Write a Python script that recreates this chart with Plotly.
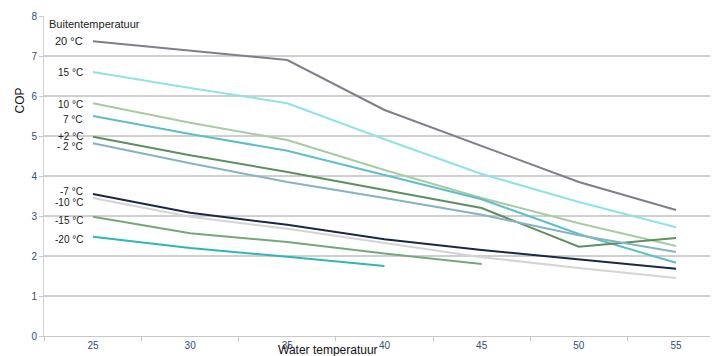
import plotly.graph_objects as go

water_temp = [25, 30, 35, 40, 45, 50, 55]

labels = ["20 °C", "15 °C", "10 °C", "7 °C", "+2 °C", "- 2 °C",
          "-7 °C", "-10 °C", "-15 °C", "-20 °C"]

cop_20 = [7.37, 7.13, 6.90, 5.65, 4.75, 3.85, 3.15]
cop_15 = [6.60, 6.20, 5.82, 4.92, 4.05, 3.35, 2.72]
cop_10 = [5.82, 5.33, 4.90, 4.15, 3.45, 2.82, 2.25]
cop_7 = [5.50, 5.05, 4.63, 4.02, 3.42, 2.55, 1.83]
cop_p2 = [4.98, 4.52, 4.10, 3.65, 3.20, 2.23, 2.45]
cop_m2 = [4.82, 4.32, 3.85, 3.45, 3.03, 2.52, 2.10]
cop_m7 = [3.55, 3.08, 2.78, 2.42, 2.15, 1.92, 1.68]
cop_m10 = [3.45, 2.98, 2.68, 2.32, 1.97, 1.70, 1.45]
cop_m15 = [2.98, 2.57, 2.35, 2.06, 1.80, None, None]
cop_m20 = [2.48, 2.20, 1.98, 1.75, None, None, None]

series = [cop_20, cop_15, cop_10, cop_7, cop_p2, cop_m2,
          cop_m7, cop_m10, cop_m15, cop_m20]

colors = ["#7f7f8c", "#8fe3e6", "#a9cba2", "#5dbfca", "#5f8f5f", "#86b3c2",
          "#18284a", "#d4d4d4", "#74a878", "#2fb6b6"]

# label vertical positions (in COP units) at the left of the lines
label_y = [7.37, 6.60, 5.80, 5.42, 5.00, 4.75, 3.62, 3.33, 2.88, 2.42]
label_size = [11, 10, 10, 10, 10, 10, 10, 10, 10, 10]

fig = go.Figure()
for name, vals, col in zip(labels, series, colors):
    fig.add_trace(go.Scatter(x=water_temp, y=vals, mode="lines", name=name,
                             line=dict(color=col, width=2),
                             connectgaps=False, showlegend=False))

for name, yv, fs in zip(labels, label_y, label_size):
    fig.add_annotation(x=water_temp[0], y=yv, xref="x", yref="y", text=name,
                       showarrow=False, xanchor="right", yanchor="middle",
                       xshift=-8, font=dict(size=fs, color="#222222",
                                            family="Liberation Sans, Arial"))

fig.add_annotation(x=water_temp[0], y=7.8, xref="x", yref="y",
                   text="Buitentemperatuur", showarrow=False,
                   xanchor="center", yanchor="middle", xshift=2,
                   font=dict(size=11, color="#222222", family="Liberation Sans, Arial"))

fig.add_annotation(x=-0.036, y=0.735, xref="paper", yref="paper", text="COP",
                   showarrow=False, textangle=-90, xanchor="center",
                   yanchor="middle",
                   font=dict(size=12, color="#111111", family="Liberation Sans, Arial"))

fig.add_annotation(x=0.421, y=-0.044, xref="paper", yref="paper",
                   text="Water temperatuur", showarrow=False,
                   xanchor="center", yanchor="middle",
                   font=dict(size=12, color="#111111", family="Liberation Sans, Arial"))

fig.update_layout(
    width=710, height=348,
    margin=dict(l=36, r=0, t=8, b=20),
    paper_bgcolor="white", plot_bgcolor="white",
    font=dict(family="Liberation Sans, Arial"),
)

fig.update_xaxes(
    range=[22.48, 57.16], tickvals=water_temp,
    ticktext=[str(v) for v in water_temp],
    showgrid=False, zeroline=False,
    showline=True, linecolor="#c8c8c8", linewidth=1,
    ticks="", tickfont=dict(size=10, color="#2f4f7a"),
    minor=dict(tickvals=[22.5, 27.5, 32.5, 37.5, 42.5, 47.5, 52.5],
               ticks="outside", ticklen=4, tickcolor="#c8c8c8", showgrid=False),
)

fig.update_yaxes(
    range=[0, 8], dtick=1, showgrid=True, gridcolor="#cfcfcf", gridwidth=1.5,
    zeroline=False, showline=True, linecolor="#d0d0d0", linewidth=1,
    ticks="outside", ticklen=4, tickcolor="#c8c8c8",
    tickfont=dict(size=10, color="#2f4f7a"),
)

fig.write_html("out.html")
